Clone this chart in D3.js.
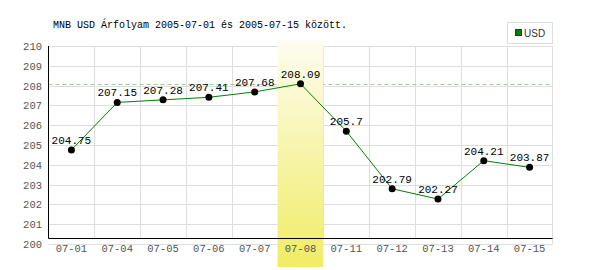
<!DOCTYPE html>
<html><head><meta charset="utf-8">
<script src="https://cdn.jsdelivr.net/npm/d3@7"></script>
<style>body{margin:0;background:#fff}svg{display:block}</style>
</head><body>
<svg id="c" width="600" height="270"></svg>
<script>
const dates = ["07-01","07-04","07-05","07-06","07-07","07-08","07-11","07-12","07-13","07-14","07-15"];
const values = [204.75,207.15,207.28,207.41,207.68,208.09,205.7,202.79,202.27,204.21,203.87];
const yTicks = [200,201,202,203,204,205,206,207,208,209,210];
const highlightDate = "07-08";
const maxValue = 208.09;
const title = "MNB USD Árfolyam 2005-07-01 és 2005-07-15 között.";
const seriesName = "USD";

const svg = d3.select("#c");
const mono = "'Liberation Mono', monospace";
const L = 48.5, R = 552.5, T = 46, B = 244, axisY = 238.5;

const x = d3.scaleBand().domain(dates).range([L, R]);
const y = d3.scaleLinear().domain([200, 210]).range([B, T]);

const defs = svg.append("defs");
const g = defs.append("linearGradient").attr("id","hl").attr("x1",0).attr("y1",0).attr("x2",0).attr("y2",1);
g.append("stop").attr("offset","0%").attr("stop-color","#fefdf0");
g.append("stop").attr("offset","100%").attr("stop-color","#f0ec64");

svg.append("g").selectAll("line").data(yTicks).join("line")
  .attr("x1", L).attr("x2", R)
  .attr("y1", d => Math.round(y(d)) + 0.5).attr("y2", d => Math.round(y(d)) + 0.5)
  .attr("stroke", "#dddddd");
svg.append("g").selectAll("line").data(dates.slice(1)).join("line")
  .attr("x1", d => Math.round(x(d)) + 0.5).attr("x2", d => Math.round(x(d)) + 0.5)
  .attr("y1", T).attr("y2", axisY)
  .attr("stroke", "#dddddd");
svg.append("line").attr("x1", R).attr("x2", R).attr("y1", T).attr("y2", B).attr("stroke", "#dddddd");

svg.append("line").attr("x1", L).attr("x2", R)
  .attr("y1", Math.round(y(maxValue)) + 0.5).attr("y2", Math.round(y(maxValue)) + 0.5)
  .attr("stroke", "#99cc99").attr("stroke-dasharray", "4,3");

svg.append("rect").attr("x", x(highlightDate)).attr("width", x.bandwidth())
  .attr("y", 40).attr("height", 227).attr("fill", "url(#hl)");

svg.append("line").attr("x1", L).attr("x2", R).attr("y1", axisY).attr("y2", axisY).attr("stroke", "#000");
svg.append("line").attr("x1", L).attr("x2", L).attr("y1", T).attr("y2", axisY).attr("stroke", "#000");

svg.append("g").selectAll("text").data(yTicks).join("text")
  .attr("x", 42).attr("y", d => y(d) + 4)
  .attr("text-anchor", "end").attr("font-family", mono).attr("font-size", 10.5)
  .attr("fill", "#555").text(d => d);

svg.append("g").selectAll("text").data(dates).join("text")
  .attr("x", d => x(d) + x.bandwidth()/2).attr("y", 252)
  .attr("text-anchor", "middle").attr("font-family", mono).attr("font-size", 10.5)
  .attr("fill", "#555").text(d => d);

const pts = dates.map((d, i) => [x(d) + x.bandwidth()/2, y(values[i])]);
svg.append("path").attr("d", d3.line()(pts)).attr("fill", "none").attr("stroke", "#008000").attr("stroke-width", 1);

svg.append("g").selectAll("circle").data(pts).join("circle")
  .attr("cx", d => d[0]).attr("cy", d => d[1]).attr("r", 3.5).attr("fill", "#000");

svg.append("g").selectAll("text").data(dates).join("text")
  .attr("x", (d, i) => pts[i][0]).attr("y", (d, i) => pts[i][1] - 6)
  .attr("text-anchor", "middle").attr("font-family", mono).attr("font-size", 11)
  .attr("fill", "#000").text((d, i) => values[i]);

svg.append("text").attr("x", 53).attr("y", 28).attr("font-family", mono).attr("font-size", 10)
  .attr("fill", "#000").text(title);

svg.append("rect").attr("x", 507.5).attr("y", 22.5).attr("width", 45).attr("height", 21)
  .attr("fill", "#fff").attr("stroke", "#dddddd");
svg.append("rect").attr("x", 515.5).attr("y", 29.5).attr("width", 6).attr("height", 6)
  .attr("fill", "#008000").attr("stroke", "#333");
svg.append("text").attr("x", 524).attr("y", 36.5).attr("font-family", "'Liberation Sans Narrow','Liberation Sans',sans-serif")
  .attr("font-size", 10).attr("fill", "#333").text(seriesName);
</script>
</body></html>
